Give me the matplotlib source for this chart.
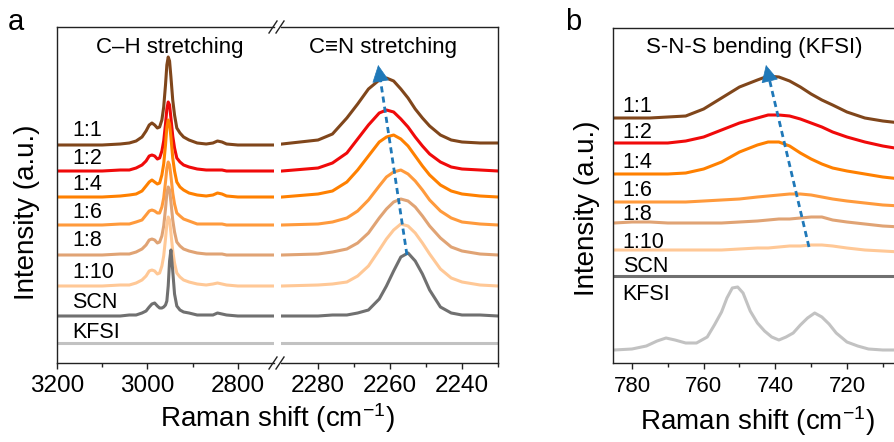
import matplotlib
matplotlib.use("Agg")
import matplotlib.pyplot as plt
from matplotlib.lines import Line2D
from matplotlib.ticker import FixedLocator

plt.rcParams["font.family"] = ["Liberation Sans", "DejaVu Sans"]
plt.rcParams["mathtext.fontset"] = "custom"
plt.rcParams["mathtext.rm"] = "Liberation Sans"
plt.rcParams["mathtext.it"] = "Liberation Sans:italic"

# ---------------- data ----------------
samples = ["1:1", "1:2", "1:4", "1:6", "1:8", "1:10", "SCN", "KFSI"]
colors = ["#80461B", "#F00A0A", "#FF8000", "#FF9A3C", "#E0A374",
          "#FFC896", "#707070", "#C2C2C2"]

# panel a, C-H stretching region
x_ch = [3200, 3100, 3060, 3040, 3025, 3012, 3003, 2996, 2990, 2984, 2978,
        2973, 2968, 2964, 2960, 2957, 2954, 2951, 2948, 2944, 2940, 2935,
        2928, 2920, 2908, 2890, 2870, 2855, 2845, 2835, 2825, 2800, 2760, 2720]
ch_int = [
    [0, 0, 1, 2, 4, 8, 14, 20, 22, 20, 17, 18, 25, 38, 60, 80, 88, 84, 68,
     45, 30, 17, 12, 8, 5, 2, 1, 2, 4, 3, 1, 0, 0, 0],
    [0, 0, 1, 1, 3, 6, 10, 15, 16, 15, 12, 13, 20, 30, 47, 62, 69, 66, 53,
     35, 23, 13, 9, 6, 4, 2, 1, 1, 1, 1, 0, 0, 0, 0],
    [0, 0, 1, 2, 3, 6, 11, 15, 17, 15, 13, 14, 22, 33, 52, 70, 77, 73, 60,
     39, 26, 15, 10, 7, 4, 2, 1, 2, 4, 3, 1, 0, 0, 0],
    [0, 0, 1, 1, 3, 5, 10, 14, 15, 14, 12, 12, 18, 27, 43, 57, 63, 60, 49,
     32, 21, 12, 9, 6, 4, 1, 1, 1, 1, 1, 0, 0, 0, 0],
    [0, 0, 1, 1, 3, 6, 10, 15, 16, 15, 12, 13, 19, 29, 46, 62, 68, 65, 53,
     35, 23, 13, 9, 6, 4, 2, 1, 1, 1, 1, 0, 0, 0, 0],
    [0, 0, 1, 1, 3, 6, 10, 15, 16, 15, 12, 13, 20, 30, 47, 62, 69, 66, 53,
     35, 23, 13, 9, 6, 4, 2, 1, 2, 3, 2, 1, 0, 0, 0],
    [0, 0, 0, 1, 1, 3, 5, 9, 12, 13, 10, 8, 8, 9, 11, 15, 30, 55, 66,
     45, 22, 10, 6, 4, 3, 1, 1, 1, 3, 2, 1, 0, 0, 0],
    [0] * 34,
]

# panel a, C≡N stretching region
x_cn = [2290, 2280, 2276, 2272, 2269, 2266, 2263, 2261, 2259, 2257, 2255,
        2253, 2251, 2249, 2246, 2243, 2240, 2235, 2230]
cn_int = [
    [1, 5, 11, 27, 41, 56, 65, 67, 64, 56, 47, 36, 27, 19, 10, 5, 3, 2, 2],
    [0, 3, 8, 18, 32, 46, 58, 61, 59, 52, 44, 34, 25, 17, 9, 4, 2, 1, 0],
    [0, 3, 6, 15, 27, 41, 55, 60, 62, 58, 51, 41, 31, 22, 12, 6, 3, 1, 0],
    [0, 1, 3, 7, 14, 25, 39, 48, 53, 55, 51, 44, 35, 25, 14, 7, 3, 1, 0],
    [0, 1, 3, 6, 12, 22, 37, 46, 53, 56, 54, 48, 39, 29, 17, 8, 4, 1, 0],
    [0, 1, 2, 4, 10, 20, 36, 47, 56, 62, 60, 53, 43, 32, 17, 8, 4, 1, 0],
    [0, 0, 1, 1, 3, 6, 17, 30, 45, 59, 63, 55, 42, 26, 9, 3, 1, 1, 0],
    [0] * 19,
]
a_offsets = [218, 192, 166, 138, 108, 77, 47, 20]

# panel b, S-N-S bending region
x_sns = [785, 780, 775, 770, 765, 760, 755, 750, 745, 742, 739, 736, 733,
         730, 727, 724, 720, 715, 710, 705, 700]
sns_int = [
    [0, 0, 0, 1, 2, 9, 20, 31, 38, 42, 41, 37, 31, 24, 18, 13, 6, 0, -3, -5, -5],
    [0, 0, 0, 0, 2, 6, 13, 20, 25, 28, 28, 27, 24, 20, 16, 11, 6, 1, -3, -6, -7],
    [0, 0, 0, 0, 1, 5, 12, 22, 29, 32, 32, 28, 21, 15, 10, 6, 3, 0, -3, -5, -6],
    [0, 0, 0, 0, 0, 1, 2, 3, 5, 6, 7, 8, 8, 7, 5, 3, 1, -1, -3, -4, -5],
    [0, 1, 1, 0, 0, 0, 0, 1, 2, 3, 4, 4, 5, 6, 6, 3, 1, -1, -3, -4, -5],
    [0, 0, 0, 0, 0, 0, 0, 1, 2, 2, 3, 4, 4, 5, 5, 4, 2, 0, -1, -2, -2],
    [0] * 21,
]
x_kfsi_b = [785, 780, 776, 773, 770.5, 768, 765, 762, 759, 757, 755, 753.5,
            752, 750.5, 749, 747, 745, 743, 741, 739, 737, 735, 733, 731,
            729, 727, 725, 723, 720, 717, 714, 710, 705, 700]
kfsi_b = [0, 1, 4, 9, 12, 10, 7, 7, 13, 25, 38, 52, 62, 63, 57, 39, 27, 19,
          13, 10, 13, 17, 25, 32, 37, 33, 26, 17, 8, 4, 1, 0, 0, 0]
b_offsets = [245, 220, 189, 161, 140, 113, 87, 13]

# label anchors and peak-shift arrows
a_label_y = [233, 205, 178, 151, 123, 91, 61, 31]
b_label_y = [256, 230, 200, 173, 148, 121, 96, 68]
a_arrow = [(2255.3, 108), (2263.3, 298)]
b_arrow = [(730.6, 116), (742.6, 298)]

# ---------------- figure ----------------
W, H = 894, 442


def fbox(x0, y0, x1, y1):
    return [x0 / W, 1 - y1 / H, (x1 - x0) / W, (y1 - y0) / H]


fig = plt.figure(figsize=(W / 100, H / 100), dpi=100)
axL = fig.add_axes(fbox(57, 27, 274, 363))
axR = fig.add_axes(fbox(281, 27, 498, 363))
axB = fig.add_axes(fbox(613, 28, 918.6, 363))

lw = 2.2
for i in range(len(samples)):
    axL.plot(x_ch, [v + a_offsets[i] for v in ch_int[i]], color=colors[i], lw=lw)
    axR.plot(x_cn, [v + a_offsets[i] for v in cn_int[i]], color=colors[i], lw=lw)
for i in range(len(samples) - 1):
    axB.plot(x_sns, [v + b_offsets[i] for v in sns_int[i]], color=colors[i], lw=lw)
axB.plot(x_kfsi_b, [v + b_offsets[-1] for v in kfsi_b], color=colors[-1], lw=lw)

axL.set_xlim(3200, 2720)
axR.set_xlim(2290.3, 2230)
axB.set_xlim(785.3, 700)
for ax in (axL, axR):
    ax.set_ylim(0, 336)
axB.set_ylim(0, 335)

axL.xaxis.set_major_locator(FixedLocator([3200, 3000, 2800]))
axL.xaxis.set_minor_locator(FixedLocator([3100, 2900]))
axR.xaxis.set_major_locator(FixedLocator([2280, 2260, 2240]))
axR.xaxis.set_minor_locator(FixedLocator([2270, 2250, 2230]))
axB.xaxis.set_major_locator(FixedLocator([780, 760, 740, 720]))
axB.xaxis.set_minor_locator(FixedLocator([770, 750, 730, 710]))

spine_c = "#222222"
for ax in (axL, axR, axB):
    ax.set_yticks([])
    for s in ax.spines.values():
        s.set_color(spine_c)
        s.set_linewidth(1.0)
    ax.tick_params(axis="x", which="both", direction="out", width=1.0,
                   color=spine_c, pad=5)
    ax.tick_params(axis="x", which="major", length=4)
    ax.tick_params(axis="x", which="minor", length=3)
axL.tick_params(axis="x", labelsize=17.5)
axR.tick_params(axis="x", labelsize=17.5)
axB.tick_params(axis="x", labelsize=16)
axL.spines["right"].set_visible(False)
axR.spines["left"].set_visible(False)
axB.spines["right"].set_visible(False)

# break marks
for yy in (27, 363):
    for xx in (273, 280):
        fig.add_artist(Line2D([(xx - 4) / W, (xx + 4) / W],
                              [1 - (yy + 6) / H, 1 - (yy - 6) / H],
                              color=spine_c, lw=1.0))

# sample labels
for i, name in enumerate(samples):
    axL.text(3167, a_label_y[i], name, fontsize=15.5, ha="left", va="center")
    axB.text(782.6, b_label_y[i], name, fontsize=15.5, ha="left", va="center")

axL.text(2950, 316, "C\u2013H stretching", fontsize=16, ha="center", va="center")
axR.text(2262, 316, "C\u2261N stretching", fontsize=16, ha="center", va="center")
axB.text(745.9, 316, "S-N-S bending (KFSI)", fontsize=16, ha="center", va="center")

# peak-shift arrows
arrow_c = "#1F78B8"
for ax, (p0, p1) in ((axR, a_arrow), (axB, b_arrow)):
    f = 0.93
    base = (p0[0] + f * (p1[0] - p0[0]), p0[1] + f * (p1[1] - p0[1]))
    ax.plot([p0[0], base[0]], [p0[1], base[1]], color=arrow_c, lw=2,
            linestyle=(0, (2.2, 1.5)))
    ax.annotate("", xy=p1, xytext=base,
                arrowprops=dict(arrowstyle="-|>,head_length=0.7,head_width=0.35",
                                color=arrow_c, lw=0.5, shrinkA=0, shrinkB=0,
                                mutation_scale=16))

# axis labels
axL.set_ylabel("Intensity (a.u.)", fontsize=20)
axL.yaxis.set_label_coords(-0.078, 0.45)
axB.set_ylabel("Intensity (a.u.)", fontsize=20)
axB.yaxis.set_label_coords(-0.0425, 0.463)
fig.text(277 / W, 1 - 418 / H, r"Raman shift (cm$^{-1}$)", fontsize=20,
         ha="center", va="center")
fig.text(757 / W, 1 - 421 / H, r"Raman shift (cm$^{-1}$)", fontsize=20,
         ha="center", va="center")

fig.text(8 / W, 1 - 22 / H, "a", fontsize=21, ha="left", va="center")
fig.text(565 / W, 1 - 22 / H, "b", fontsize=21, ha="left", va="center")

fig.savefig("out.png", dpi=100)
